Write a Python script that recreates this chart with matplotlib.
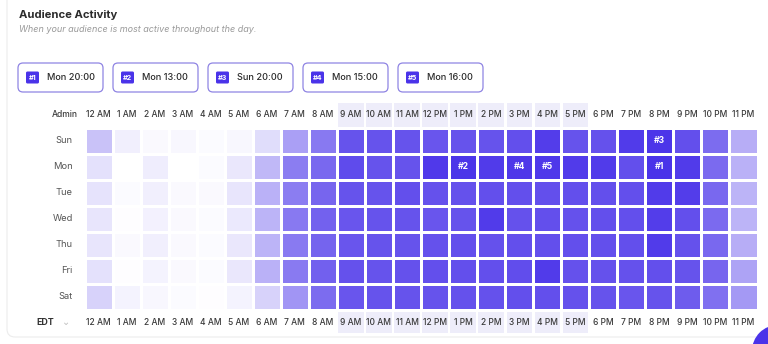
import numpy as np
import matplotlib
matplotlib.use("Agg")
import matplotlib.pyplot as plt
from matplotlib.colors import LinearSegmentedColormap
from matplotlib.patches import Rectangle, FancyBboxPatch, Circle

plt.rcParams['font.family'] = ['Inter', 'DejaVu Sans']

# ---------------- data ----------------
title = "Audience Activity"
subtitle = "When your audience is most active throughout the day."
days = ["Sun", "Mon", "Tue", "Wed", "Thu", "Fri", "Sat"]
hour_labels = ["12 AM", "1 AM", "2 AM", "3 AM", "4 AM", "5 AM", "6 AM", "7 AM", "8 AM",
               "9 AM", "10 AM", "11 AM", "12 PM", "1 PM", "2 PM", "3 PM", "4 PM", "5 PM",
               "6 PM", "7 PM", "8 PM", "9 PM", "10 PM", "11 PM"]
highlight_hours = [9, 10, 11, 12, 13, 14, 15, 16, 17]
timezone = "EDT"
corner_label = "Admin"

sun = [30, 8, 3, 4, 2, 4, 17, 47, 66, 84, 84, 84, 83, 84, 84, 86, 95, 84, 85, 96, 98.5, 86, 72, 40]
mon = [15, 0, 9, 0, 2, 12, 35, 64, 74, 88, 84, 84, 96.5, 99, 96, 98, 97.5, 96, 96, 86, 100, 96, 73, 38]
tue = [14, 2, 8, 3, 3, 13, 38, 64, 75, 84, 84, 86, 85, 85, 86, 86, 86, 86, 86, 86, 96, 95, 74, 37]
wed = [13, 1, 7, 3, 2, 11, 37, 66, 77, 83, 84, 84, 83, 84, 96, 85, 86, 85, 86, 86, 95, 86, 73, 37]
thu = [13, 3, 8, 3, 2, 12, 37, 65, 76, 83, 84, 84, 85, 86, 85, 86, 86, 86, 86, 86, 96, 85, 74, 40]
fri = [15, 1, 6, 3, 2, 12, 38, 65, 78, 85, 84, 85, 86, 86, 86, 87, 96, 85, 85, 85, 86, 84, 75, 45]
sat = [22, 6, 4, 2, 1, 6, 22, 52, 72, 83, 84, 84, 84, 85, 85, 86, 86, 85, 84, 83, 84, 80, 70, 50]

activity = np.array([sun, mon, tue, wed, thu, fri, sat], dtype=float)

# top 5 slots
order = np.argsort(-activity.ravel())[:5]
top5 = [divmod(int(k), activity.shape[1]) for k in order]

# ---------------- figure ----------------
W, H = 768, 344
fig = plt.figure(figsize=(W / 100, H / 100), dpi=100, facecolor="white")

bg = fig.add_axes([0, 0, 1, 1])
bg.set_xlim(0, W)
bg.set_ylim(H, 0)
bg.axis("off")

# panel border
bg.add_patch(FancyBboxPatch((7, -20), 800, 357, boxstyle="round,pad=0,rounding_size=8",
                            fc="white", ec="#ececec", lw=0.8))

purple = "#4A33E9"
bg.text(19, 15, title, fontsize=8.1, fontweight="bold", color="#2b2b2b", va="center", ha="left")
bg.text(19, 30, subtitle, fontsize=6.5, style="italic", color="#9a9a9a", va="center", ha="left")

# top-5 buttons
for k, (d, h) in enumerate(top5):
    x0 = 18 + k * 95
    bg.add_patch(FancyBboxPatch((x0, 63), 85, 29, boxstyle="round,pad=0,rounding_size=5",
                                fc="white", ec="#8f84e3", lw=0.9))
    bg.add_patch(FancyBboxPatch((x0 + 8, 71.5), 13, 12, boxstyle="round,pad=0,rounding_size=1.5",
                                fc=purple, ec="none"))
    bg.text(x0 + 14.5, 77.8, f"#{k + 1}", fontsize=5.2, color="white", fontweight="bold",
            ha="center", va="center")
    bg.text(x0 + 29, 77.8, f"{days[d]} {h:02d}:00", fontsize=6.6, color="#2b2b2b",
            fontweight="medium", ha="left", va="center")

# chat bubble in corner
bg.add_patch(Circle((778, 351), 26, fc=purple, ec="none"))

# ---------------- heatmap ----------------
gx0, gx1, gy0, gy1 = 84.5, 757.5, 127.9, 310.0
ax = fig.add_axes([gx0 / W, 1 - gy1 / H, (gx1 - gx0) / W, (gy1 - gy0) / H])
cmap = LinearSegmentedColormap.from_list("aud", ["#ffffff", purple])
ax.pcolormesh(activity, cmap=cmap, vmin=0, vmax=100, edgecolors="white", linewidth=2.1)
ax.set_xlim(0, 24)
ax.set_ylim(7, 0)
ax.axis("off")

for j in highlight_hours:
    ax.add_patch(Rectangle((j + 0.05, -0.96), 0.9, 0.92, fc="#eeedfa", ec="none",
                           clip_on=False, zorder=0))
    ax.add_patch(Rectangle((j + 0.05, 7.08), 0.9, 0.82, fc="#eeedfa", ec="none",
                           clip_on=False, zorder=0))

for j, lab in enumerate(hour_labels):
    ax.text(j + 0.5, -0.5, lab, fontsize=6.1, fontweight="medium", color="#3a3a3a",
            ha="center", va="center", clip_on=False)
    ax.text(j + 0.5, 7.49, lab, fontsize=6.1, fontweight="medium", color="#3a3a3a",
            ha="center", va="center", clip_on=False)

for i, d in enumerate(days):
    ax.text(-0.42, i + 0.5, d, fontsize=6.7, color="#555555", ha="right", va="center",
            clip_on=False)
ax.text(-0.23, -0.5, corner_label, fontsize=6.1, fontweight="medium", color="#3a3a3a",
        ha="right", va="center", clip_on=False)

for k, (d, h) in enumerate(top5):
    ax.text(h + 0.5, d + 0.5, f"#{k + 1}", fontsize=6.2, color="white", fontweight="bold",
            ha="center", va="center")

bg.text(45, 322.7, timezone, fontsize=6.3, fontweight="bold", color="#333333",
        ha="center", va="center")
bg.text(66, 322, "\u2304", fontsize=7, color="#c0c0c0", ha="center", va="center",
        family=["DejaVu Sans"])

fig.savefig("out.png", dpi=100, facecolor="white")
